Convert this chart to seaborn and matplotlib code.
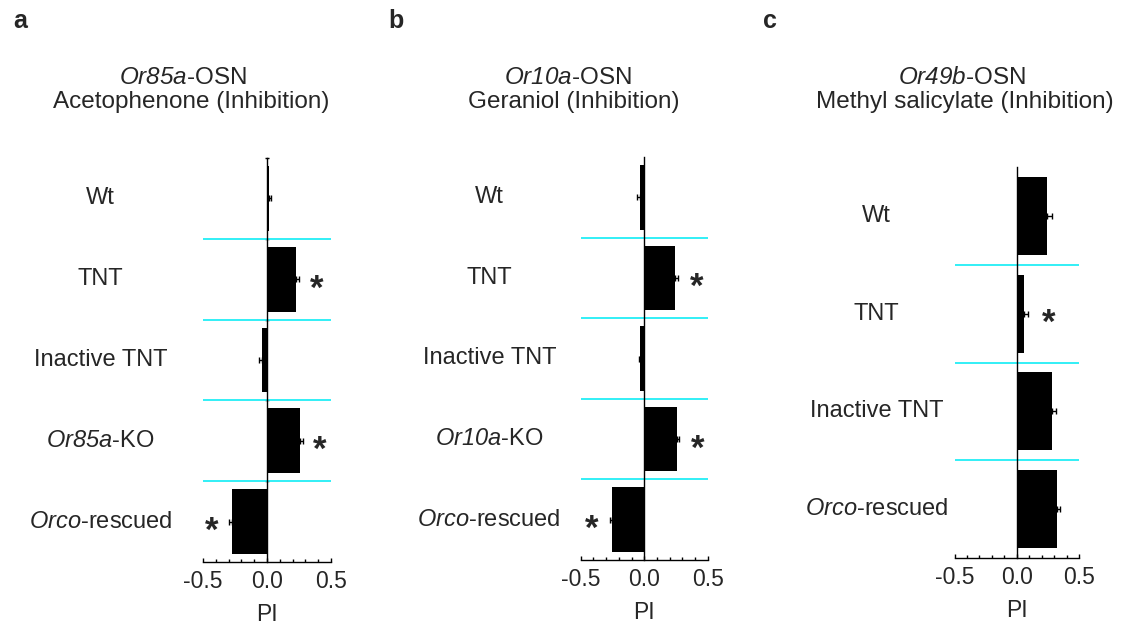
import numpy as np
import pandas as pd
import matplotlib
matplotlib.use("Agg")
import matplotlib.pyplot as plt
import seaborn as sns

# ---- data ---------------------------------------------------------------
groups_a = ["Wt", "TNT", "Inactive TNT", "Or85a-KO", "Orco-rescued"]
labels_a = ["Wt", "TNT", "Inactive TNT", r"$\mathsf{Or85a}$-KO", r"$\mathsf{Orco}$-rescued"]
pi_a = [0.015, 0.23, -0.04, 0.26, -0.275]
sem_a = [0.017, 0.02, 0.02, 0.02, 0.02]
sig_a = [False, True, False, True, True]

groups_b = ["Wt", "TNT", "Inactive TNT", "Or10a-KO", "Orco-rescued"]
labels_b = ["Wt", "TNT", "Inactive TNT", r"$\mathsf{Or10a}$-KO", r"$\mathsf{Orco}$-rescued"]
pi_b = [-0.035, 0.245, -0.03, 0.255, -0.25]
sem_b = [0.02, 0.02, 0.012, 0.018, 0.02]
sig_b = [False, True, False, True, True]

groups_c = ["Wt", "TNT", "Inactive TNT", "Orco-rescued"]
labels_c = ["Wt", "TNT", "Inactive TNT", r"$\mathsf{Orco}$-rescued"]
pi_c = [0.245, 0.06, 0.283, 0.323]
sem_c = [0.04, 0.028, 0.035, 0.028]
sig_c = [False, True, False, False]

titles = [
    (r"$\mathsf{Or85a}$-OSN", "Acetophenone (Inhibition)"),
    (r"$\mathsf{Or10a}$-OSN", "Geraniol (Inhibition)"),
    (r"$\mathsf{Or49b}$-OSN", "Methyl salicylate (Inhibition)"),
]
panel_letters = ["a", "b", "c"]
xticks = [-0.5, 0.0, 0.5]

# ---- style --------------------------------------------------------------
sns.set_style("white")
plt.rcParams["font.family"] = ["Liberation Sans", "DejaVu Sans"]
plt.rcParams["mathtext.fontset"] = "custom"
plt.rcParams["mathtext.rm"] = "Liberation Sans"
# gene names are set in italics (sf slot keeps digits italic too)
plt.rcParams["mathtext.sf"] = "Liberation Sans:italic"
plt.rcParams["mathtext.it"] = "Liberation Sans:italic"

W, H = 1125, 626
fig = plt.figure(figsize=(W / 100, H / 100), dpi=100)
fig.patch.set_facecolor("white")


def px_axes(left, top, right, bottom):
    return fig.add_axes([left / W, 1 - bottom / H, (right - left) / W, (bottom - top) / H])


def draw_panel(ax, groups, labels, vals, errs, sig, label_x, star_off, caps_y):
    df = pd.DataFrame({"group": groups, "PI": vals})
    sns.barplot(data=df, x="PI", y="group", orient="h", color="black",
                saturation=1, errorbar=None, width=0.8, ax=ax, linewidth=0)
    n = len(groups)
    pos = np.arange(n)
    vals = np.asarray(vals)
    errs = np.asarray(errs)
    lower = np.where(vals < 0, errs, 0)
    upper = np.where(vals >= 0, errs, 0)
    ax.errorbar(vals, pos, xerr=[lower, upper], fmt="none", ecolor="black",
                elinewidth=1.0, capsize=2.0, capthick=1.0, zorder=3)

    ax.set_xlim(-0.5, 0.5)
    ax.set_ylim(n - 0.5, -0.5)

    # separators between genotypes
    for b in np.arange(n - 1) + 0.5:
        ax.plot([-0.5, 0.5], [b, b], color="#22EEF6", lw=1.3, zorder=1,
                solid_capstyle="butt")

    # axes: vertical line at PI = 0, horizontal axis at the bottom
    for s in ["top", "right"]:
        ax.spines[s].set_visible(False)
    ax.spines["left"].set_position(("data", 0))
    for s in ["left", "bottom"]:
        ax.spines[s].set_linewidth(1.0)
        ax.spines[s].set_color("black")
    ax.spines["left"].set_zorder(4)

    ax.set_xticks(xticks)
    ax.set_xticklabels(["-0.5", "0.0", "0.5"], fontsize=16.5)
    ax.set_xticks(np.arange(-0.5, 0.51, 0.1), minor=True)
    ax.tick_params(axis="x", which="major", direction="in", length=3, width=1,
                   pad=6, color="black", bottom=True)
    ax.tick_params(axis="x", which="minor", direction="in", length=2, width=1,
                   color="black", bottom=True)

    if caps_y:
        ax.set_yticks(np.arange(n) - 0.5)
        ax.tick_params(axis="y", which="major", direction="inout", length=3.5,
                       width=1, color="black", left=True, labelleft=False)
    else:
        ax.set_yticks([])
    ax.set_ylabel("")
    ax.set_xlabel("PI", fontsize=16.5, labelpad=7)

    for p, lab in zip(pos, labels):
        ax.text(label_x, p, lab, ha="center", va="center", fontsize=17,
                clip_on=False)

    for p, v, e, s in zip(pos, vals, errs, sig):
        if not s:
            continue
        xs = v + e + star_off if v >= 0 else v - e - star_off
        ax.annotate("*", xy=(xs, p), xytext=(0, -14), textcoords="offset points",
                    ha="center", va="baseline", fontsize=25, fontweight="bold",
                    annotation_clip=False)
    ax.set_facecolor("white")


ax_a = px_axes(203, 158, 331, 562)
ax_b = px_axes(580.7, 157, 707.7, 560)
ax_c = px_axes(954.5, 167, 1079, 558)

draw_panel(ax_a, groups_a, labels_a, pi_a, sem_a, sig_a, -1.30, 0.135, True)
draw_panel(ax_b, groups_b, labels_b, pi_b, sem_b, sig_b, -1.22, 0.145, False)
draw_panel(ax_c, groups_c, labels_c, pi_c, sem_c, sig_c, -1.125, 0.17, False)

title_cx = [(183, 191), (568, 574), (962, 965)]
letter_x = [20, 396, 770]
for (c1, c2), (l1, l2), lx, let in zip(title_cx, titles, letter_x, panel_letters):
    fig.text(c1 / W, 1 - 78 / H, l1, ha="center", va="center", fontsize=17.5)
    fig.text(c2 / W, 1 - 102 / H, l2, ha="center", va="center", fontsize=17.5)
    fig.text(lx / W, 1 - 21 / H, let, ha="center", va="center", fontsize=18,
             fontweight="bold")

fig.savefig("out.png", dpi=100)
